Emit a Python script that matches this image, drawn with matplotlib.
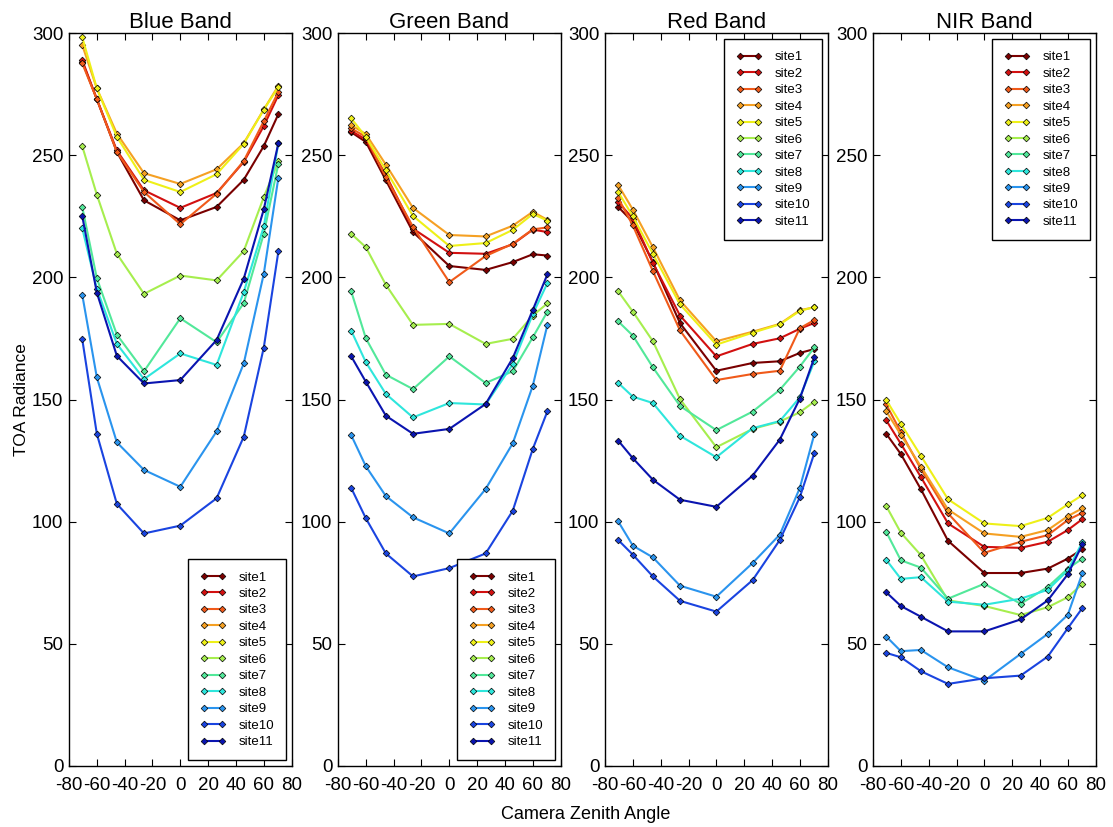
import matplotlib
matplotlib.use("Agg")
import matplotlib.pyplot as plt
import numpy as np

plt.rcParams['font.family'] = ['Liberation Sans', 'DejaVu Sans']
plt.rcParams['axes.unicode_minus'] = False

# camera zenith angles (MISR cameras)
angles = [-70.5, -60.0, -45.6, -26.1, 0.0, 26.1, 45.6, 60.0, 70.5]

sites = ['site1', 'site2', 'site3', 'site4', 'site5', 'site6',
         'site7', 'site8', 'site9', 'site10', 'site11']
site_colors = ['#7a0000', '#d21010', '#f05a1a', '#f5a023', '#eef018', '#a6ee4e',
               '#52e89a', '#2ee6dc', '#2a94ee', '#1a44e0', '#0a14b0']

blue_band = [
    [288.4, 273.0, 251.4, 231.6, 223.4, 228.9, 240.0, 253.8, 266.9],
    [289.0, 273.0, 252.0, 235.7, 228.5, 234.6, 247.3, 262.0, 274.7],
    [287.7, 273.0, 251.4, 235.0, 221.8, 234.3, 247.7, 264.0, 276.0],
    [295.2, 277.4, 258.9, 242.7, 238.3, 244.3, 255.0, 268.8, 278.5],
    [298.4, 277.4, 257.6, 240.0, 235.0, 242.3, 254.7, 268.7, 278.0],
    [253.8, 233.9, 209.7, 193.3, 200.8, 198.8, 210.8, 232.9, 247.5],
    [228.9, 199.7, 176.6, 161.6, 183.3, 173.5, 189.5, 217.9, 246.6],
    [220.2, 195.4, 172.8, 158.4, 168.9, 164.2, 194.0, 220.9, 255.0],
    [193.0, 159.1, 132.5, 121.2, 114.3, 137.0, 164.8, 201.5, 240.9],
    [174.8, 136.0, 107.3, 95.2, 98.4, 109.6, 134.8, 171.3, 210.7],
    [225.2, 193.8, 167.9, 156.6, 158.0, 174.4, 199.5, 227.9, 255.0],
]

green_band = [
    [259.5, 255.5, 239.8, 218.6, 204.7, 203.1, 206.3, 209.5, 209.0],
    [260.0, 256.5, 241.9, 220.0, 210.1, 209.7, 213.6, 219.6, 218.6],
    [261.0, 257.6, 241.0, 220.7, 198.1, 208.8, 213.8, 219.7, 220.5],
    [262.4, 258.7, 246.2, 228.5, 217.4, 216.8, 221.2, 226.9, 223.6],
    [265.1, 257.6, 243.9, 225.2, 212.9, 214.1, 219.5, 226.0, 223.3],
    [217.9, 212.4, 197.0, 180.6, 181.0, 172.8, 174.9, 184.4, 189.4],
    [194.3, 175.1, 160.2, 154.3, 167.7, 156.8, 161.6, 175.5, 186.0],
    [178.2, 165.3, 152.3, 142.7, 148.6, 148.0, 164.5, 185.0, 197.7],
    [135.4, 122.7, 110.5, 101.8, 95.2, 113.4, 132.1, 155.7, 180.6],
    [113.8, 101.4, 87.0, 77.6, 81.0, 87.0, 104.5, 129.8, 145.2],
    [167.7, 157.3, 143.4, 136.0, 138.0, 148.2, 167.0, 186.7, 201.3],
]

red_band = [
    [228.9, 222.7, 206.3, 181.3, 161.8, 165.0, 165.7, 169.1, 170.7],
    [230.9, 224.1, 206.0, 184.4, 167.7, 172.8, 175.1, 179.0, 181.4],
    [232.5, 221.3, 202.6, 178.3, 158.0, 160.5, 161.8, 179.2, 182.6],
    [237.8, 227.8, 212.4, 190.6, 173.9, 177.8, 181.0, 186.6, 187.8],
    [235.0, 225.0, 209.7, 189.0, 172.5, 177.4, 180.8, 186.3, 187.9],
    [194.3, 186.0, 173.9, 150.2, 130.5, 138.0, 141.0, 144.8, 149.2],
    [182.0, 176.2, 163.2, 147.4, 137.5, 145.1, 154.0, 163.5, 171.4],
    [156.8, 151.2, 148.6, 135.2, 126.4, 138.3, 141.2, 150.9, 165.7],
    [100.1, 90.2, 85.4, 73.8, 69.3, 83.1, 94.7, 113.8, 136.0],
    [92.5, 86.5, 77.6, 67.6, 63.2, 76.1, 92.5, 110.0, 128.2],
    [133.2, 126.0, 117.2, 109.0, 106.1, 118.9, 133.6, 150.4, 167.3],
]

nir_band = [
    [136.0, 127.7, 113.3, 92.2, 79.0, 79.0, 80.8, 84.9, 88.8],
    [141.5, 131.9, 118.3, 99.3, 89.7, 89.3, 91.8, 96.6, 101.1],
    [148.0, 136.7, 121.6, 103.4, 87.3, 91.8, 94.5, 100.7, 103.7],
    [145.2, 135.6, 122.6, 105.0, 95.2, 93.8, 96.6, 102.3, 105.5],
    [149.8, 140.1, 127.0, 109.2, 99.3, 98.2, 101.6, 107.1, 110.9],
    [106.4, 95.5, 86.3, 67.8, 65.5, 61.8, 65.0, 69.1, 74.6],
    [95.8, 84.2, 81.2, 68.5, 74.6, 66.4, 73.3, 80.8, 84.9],
    [84.4, 76.6, 77.3, 67.3, 66.0, 68.5, 72.1, 80.1, 91.7],
    [53.0, 47.0, 47.5, 40.4, 34.9, 45.9, 54.1, 61.9, 79.0],
    [46.3, 44.5, 38.8, 33.6, 35.9, 37.0, 44.8, 56.4, 64.7],
    [71.1, 65.5, 61.1, 55.1, 55.1, 60.0, 67.8, 78.5, 90.7],
]

bands = [blue_band, green_band, red_band, nir_band]
titles = ['Blue Band', 'Green Band', 'Red Band', 'NIR Band']
legend_locs = ['lower right', 'lower right', 'upper right', 'upper right']
lefts = [0.062, 0.3037, 0.5436, 0.7844]

fig = plt.figure(figsize=(11.13, 8.27), dpi=100)

for k in range(4):
    ax = fig.add_axes([lefts[k], 0.0738, 0.2, 0.886])
    for i in range(11):
        ax.plot(angles, bands[k][i], color=site_colors[i], lw=1.5,
                marker='D', ms=3.4, mfc=site_colors[i], mec='black', mew=0.5,
                label=sites[i])
    ax.set_xlim(-80, 80)
    ax.set_ylim(0, 300)
    ax.set_xticks(np.arange(-80, 81, 20))
    ax.set_yticks(np.arange(0, 301, 50))
    ax.tick_params(direction='in', top=True, right=True, labelsize=13.5,
                   length=5, width=0.8, pad=4)
    ax.tick_params(axis='x', pad=8)
    for s in ax.spines.values():
        s.set_linewidth(1.0)
    ax.set_title(titles[k], fontsize=16, pad=4)
    leg = ax.legend(loc=legend_locs[k], fontsize=9.5, fancybox=False,
                    edgecolor='black', framealpha=1, handlelength=2.0,
                    numpoints=2, labelspacing=0.32, borderpad=0.9,
                    handletextpad=0.9, borderaxespad=0.45)
    leg.get_frame().set_linewidth(1.0)
    if k == 0:
        ax.set_ylabel('TOA Radiance', fontsize=12.5, labelpad=2)

fig.text(0.526, 0.005, 'Camera Zenith Angle', fontsize=13, ha='center', va='bottom')

fig.savefig('out.png', dpi=100)
